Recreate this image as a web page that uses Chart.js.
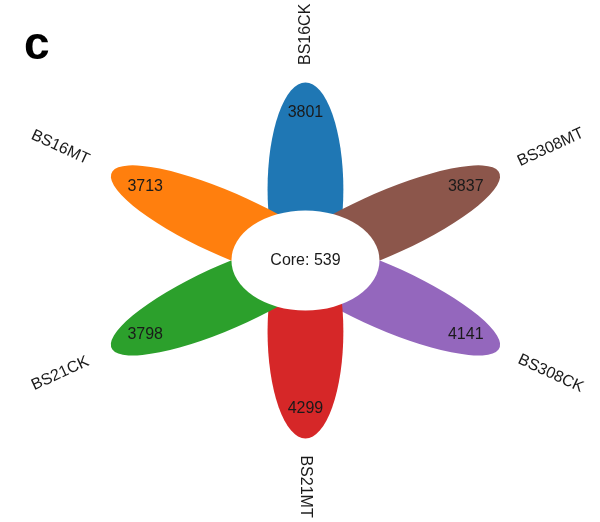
<!doctype html>
<html>
<head>
<title>Flower plot</title>
<script src="https://cdn.jsdelivr.net/npm/chart.js@4.4.0/dist/chart.umd.min.js"></script>
<style>
body { margin: 0; background: #fff; }
#holder { width: 600px; height: 522px; }
</style>
</head>
<body>
<div id="holder"><canvas id="chart-area" width="600" height="522"></canvas></div>
<script>
// petals clockwise from top
const samples = ['BS16CK', 'BS308MT', 'BS308CK', 'BS21MT', 'BS21CK', 'BS16MT'];
const uniqueCounts = [3801, 3837, 4141, 4299, 3798, 3713];
const coreCount = 539;
const petalColors = ['#1f77b4', '#8c564b', '#9467bd', '#d62728', '#2ca02c', '#ff7f0e'];

const FONT = '"Liberation Sans", Arial, Helvetica, sans-serif';
const countR = 0.83, nameR = 1.27;
const angle = i => (90 - 60 * i) * Math.PI / 180;

const flower = {
	id: 'flower',
	beforeDatasetsDraw(chart) {
		const { ctx, scales: { x, y } } = chart;
		const ox = x.getPixelForValue(0), oy = y.getPixelForValue(0);
		const kx = x.getPixelForValue(1) - ox, ky = oy - y.getPixelForValue(1);
		ctx.save();
		samples.forEach((s, i) => {
			ctx.save();
			ctx.translate(ox, oy);
			ctx.scale(kx, -ky);
			ctx.rotate(angle(i));
			ctx.beginPath();
			ctx.ellipse(0.4, 0, 0.6, 0.17, 0, 0, Math.PI * 2);
			ctx.restore();
			ctx.fillStyle = petalColors[i];
			ctx.fill();
		});
		// core
		ctx.beginPath();
		ctx.ellipse(ox, oy, 0.332 * kx, 0.281 * ky, 0, 0, Math.PI * 2);
		ctx.fillStyle = '#fff';
		ctx.fill();
		ctx.restore();
	},
	afterDatasetsDraw(chart) {
		const { ctx, scales: { x, y } } = chart;
		const ox = x.getPixelForValue(0), oy = y.getPixelForValue(0);
		const meta = chart.getDatasetMeta(0);
		ctx.save();
		ctx.fillStyle = '#1a1a1a';
		ctx.textAlign = 'center';
		ctx.textBaseline = 'middle';
		ctx.font = '16px ' + FONT;
		meta.data.forEach((pt, i) => {
			ctx.fillText(String(uniqueCounts[i]), pt.x, pt.y);
		});
		ctx.fillText('Core: ' + coreCount, ox, oy);
		// sample names
		samples.forEach((s, i) => {
			const a = angle(i);
			const px = x.getPixelForValue(nameR * Math.cos(a));
			const py = y.getPixelForValue(nameR * Math.sin(a));
			let phi = Math.atan2(py - oy, px - ox);
			if (phi > Math.PI / 2 + 1e-6) phi -= Math.PI;
			if (phi < -Math.PI / 2 - 1e-6) phi += Math.PI;
			ctx.save();
			ctx.translate(px, py);
			ctx.rotate(phi);
			ctx.fillText(s, 0, 0);
			ctx.restore();
		});
		// panel letter
		ctx.fillStyle = '#000';
		ctx.textAlign = 'left';
		ctx.textBaseline = 'alphabetic';
		ctx.font = 'bold 46px ' + FONT;
		ctx.fillText('c', 24, 59);
		ctx.restore();
	}
};

const ctx2d = document.getElementById('chart-area').getContext('2d');
new Chart(ctx2d, {
	type: 'scatter',
	data: {
		datasets: [{
			data: samples.map((s, i) => ({ x: countR * Math.cos(angle(i)), y: countR * Math.sin(angle(i)) })),
			pointRadius: 0,
			pointHoverRadius: 0
		}]
	},
	options: {
		responsive: false,
		animation: false,
		devicePixelRatio: 1,
		layout: { padding: 0 },
		scales: {
			x: { display: false, min: -1.370, max: 1.321 },
			y: { display: false, min: -1.469, max: 1.463 }
		},
		plugins: {
			legend: { display: false },
			tooltip: { enabled: false }
		}
	},
	plugins: [flower]
});
</script>
</body>
</html>
